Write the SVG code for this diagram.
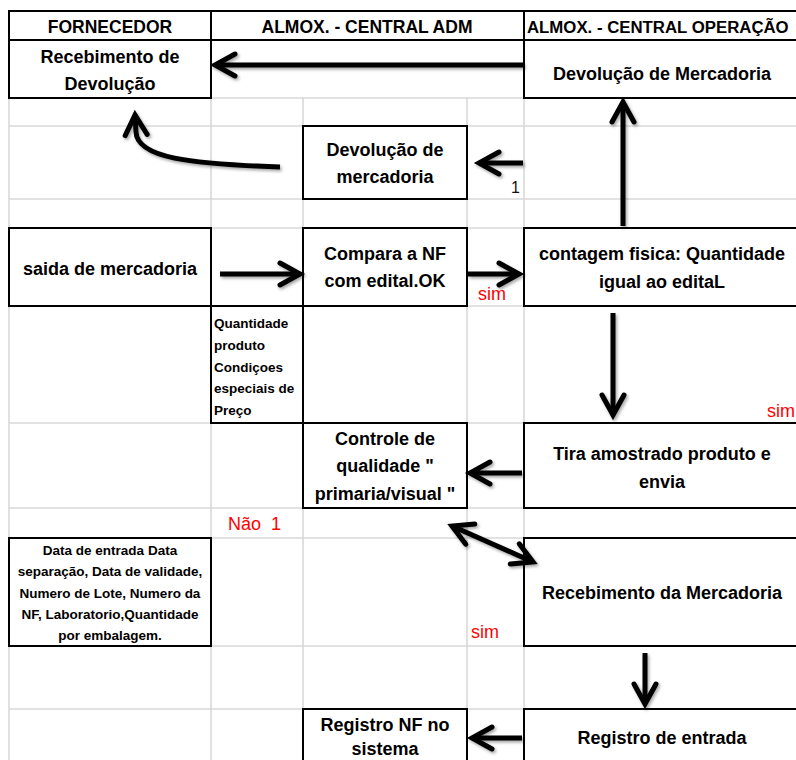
<svg xmlns="http://www.w3.org/2000/svg" width="796" height="760" viewBox="0 0 796 760">
<style>
.grid line{stroke:#d9d9d9;stroke-width:1.6}
.box{fill:#fff;stroke:#000;stroke-width:2}
.t{font-family:"Liberation Sans",Arial,sans-serif;font-weight:bold;font-size:18px;fill:#000;text-anchor:middle}
.h{font-size:17.5px}
.s{font-size:13.5px}
.l{text-anchor:start}
.red{font-family:"Liberation Sans",Arial,sans-serif;font-size:18px;fill:#ff0000}
.num{font-family:"Liberation Sans",Arial,sans-serif;font-size:16px;fill:#111}
.conn path{fill:none;stroke:#000;stroke-width:5}
</style>
<defs>
<marker id="ah" markerUnits="userSpaceOnUse" viewBox="-28 -16 32 32" refX="0" refY="0" markerWidth="32" markerHeight="32" orient="auto-start-reverse" overflow="visible">
<path d="M-20,-11 L0,0 L-20,11" fill="none" stroke="#000" stroke-width="5" stroke-linecap="round" stroke-linejoin="miter"/>
</marker>
<filter id="sh" x="-20%" y="-20%" width="140%" height="140%">
<feDropShadow dx="1.5" dy="2" stdDeviation="1.5" flood-color="#000" flood-opacity="0.35"/>
</filter>
</defs>
<rect width="796" height="760" fill="#fff"/>
<g class="grid">
<line x1="9" y1="98" x2="796" y2="98"/>
<line x1="9" y1="126" x2="796" y2="126"/>
<line x1="9" y1="199" x2="796" y2="199"/>
<line x1="9" y1="228" x2="796" y2="228"/>
<line x1="9" y1="306" x2="796" y2="306"/>
<line x1="9" y1="423" x2="796" y2="423"/>
<line x1="9" y1="508" x2="796" y2="508"/>
<line x1="9" y1="538" x2="796" y2="538"/>
<line x1="9" y1="646" x2="796" y2="646"/>
<line x1="9" y1="709" x2="796" y2="709"/>
<line x1="9" y1="40" x2="9" y2="760"/>
<line x1="211" y1="40" x2="211" y2="760"/>
<line x1="303" y1="98" x2="303" y2="760"/>
<line x1="467" y1="98" x2="467" y2="760"/>
<line x1="524" y1="40" x2="524" y2="760"/>
</g>
<g id="header">
<rect class="box" x="9" y="11" width="202" height="29"/>
<rect class="box" x="211" y="11" width="313" height="29"/>
<rect class="box" x="524" y="11" width="290" height="29"/>
<text class="t h" x="110" y="33">FORNECEDOR</text>
<text class="t h" x="367" y="33">ALMOX. - CENTRAL ADM</text>
<text class="t h l" x="527" y="33" style="font-size:16.8px">ALMOX. - CENTRAL OPERAÇÃO</text>
</g>
<g id="recebimento-devolucao">
<rect class="box" x="9" y="40" width="202" height="58"/>
<text class="t" x="110" y="63">Recebimento de</text>
<text class="t" x="110" y="90">Devolução</text>
</g>
<g id="devolucao-mercadoria-op">
<rect class="box" x="524" y="40" width="290" height="58"/>
<text class="t" x="662" y="80">Devolução de Mercadoria</text>
</g>
<g id="devolucao-mercadoria-adm">
<rect class="box" x="303" y="126" width="164" height="73"/>
<text class="t" x="385" y="156">Devolução de</text>
<text class="t" x="385" y="183">mercadoria</text>
</g>
<g id="saida">
<rect class="box" x="9" y="228" width="202" height="78"/>
<text class="t" x="110" y="275">saida de mercadoria</text>
</g>
<g id="compara">
<rect class="box" x="303" y="228" width="164" height="78"/>
<text class="t" x="385" y="260">Compara a NF</text>
<text class="t" x="385" y="287">com edital.OK</text>
</g>
<g id="contagem">
<rect class="box" x="524" y="228" width="290" height="78"/>
<text class="t" x="662" y="260">contagem fisica: Quantidade</text>
<text class="t" x="662" y="288">igual ao editaL</text>
</g>
<g id="quantidade">
<rect class="box" x="211" y="306" width="92" height="117"/>
<text class="t s l" x="214" y="328">Quantidade</text>
<text class="t s l" x="214" y="350">produto</text>
<text class="t s l" x="214" y="372">Condiçoes</text>
<text class="t s l" x="214" y="393">especiais de</text>
<text class="t s l" x="214" y="415">Preço</text>
</g>
<g id="controle">
<rect class="box" x="303" y="423" width="164" height="85"/>
<text class="t" x="385" y="445">Controle de</text>
<text class="t" x="385" y="472">qualidade "</text>
<text class="t" x="385" y="500">primaria/visual "</text>
</g>
<g id="tira">
<rect class="box" x="524" y="423" width="290" height="85"/>
<text class="t" x="662" y="460">Tira amostrado produto e</text>
<text class="t" x="662" y="488">envia</text>
</g>
<g id="data">
<rect class="box" x="9" y="538" width="202" height="108"/>
<text class="t s" x="110" y="555">Data de entrada Data</text>
<text class="t s" x="110" y="576">separação, Data de validade,</text>
<text class="t s" x="110" y="598">Numero de Lote, Numero da</text>
<text class="t s" x="110" y="619">NF, Laboratorio,Quantidade</text>
<text class="t s" x="110" y="640">por embalagem.</text>
</g>
<g id="recebimento-mercadoria">
<rect class="box" x="524" y="538" width="290" height="108"/>
<text class="t" x="662" y="599">Recebimento da Mercadoria</text>
</g>
<g id="registro-nf">
<rect class="box" x="303" y="709" width="164" height="70"/>
<text class="t" x="385" y="731">Registro NF no</text>
<text class="t" x="385" y="755">sistema</text>
</g>
<g id="registro-entrada">
<rect class="box" x="524" y="709" width="290" height="70"/>
<text class="t" x="662" y="744">Registro de entrada</text>
</g>
<g id="connectors" class="conn" filter="url(#sh)">
<path d="M524,65 L215,65" marker-end="url(#ah)"/>
<path d="M280,167 C190,164 137,158 136,132 L135,115" marker-end="url(#ah)"/>
<path d="M523,163 L479,163" marker-end="url(#ah)"/>
<path d="M623,226 L623,102" marker-end="url(#ah)"/>
<path d="M220,274 L300,274" marker-end="url(#ah)"/>
<path d="M468,274 L519,274" marker-end="url(#ah)"/>
<path d="M613,313 L613,415" marker-end="url(#ah)"/>
<path d="M522,473 L470,473" marker-end="url(#ah)"/>
<path d="M452,526 L533,562" marker-start="url(#ah)" marker-end="url(#ah)"/>
<path d="M645,653 L645,704" marker-end="url(#ah)"/>
<path d="M522,738 L472,738" marker-end="url(#ah)"/>
</g>
<g id="labels">
<text class="num" x="511" y="193">1</text>
<text class="red" x="478" y="300">sim</text>
<text class="red" x="767" y="417">sim</text>
<text class="red" x="228" y="530" xml:space="preserve">Não  1</text>
<text class="red" x="471" y="638">sim</text>
</g>
</svg>
